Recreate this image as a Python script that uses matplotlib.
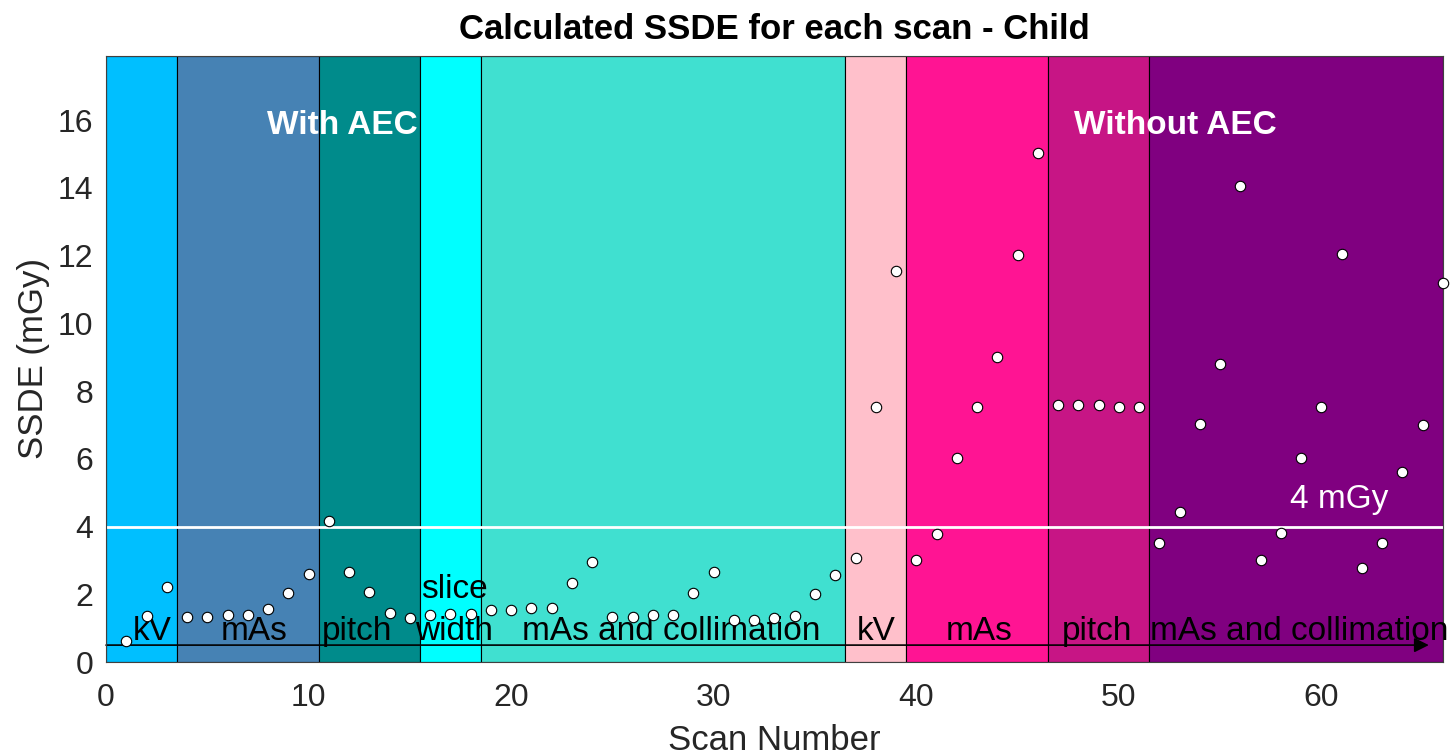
import numpy as np
import matplotlib
matplotlib.use("Agg")
import matplotlib.pyplot as plt

plt.rcParams['font.family'] = ['Liberation Sans', 'DejaVu Sans']

# SSDE per scan (mGy), scans 1..66
scan = np.arange(1, 67)
ssde = [0.62, 1.37, 2.22, 1.32, 1.32, 1.38, 1.38, 1.57, 2.03, 2.59,
        4.17, 2.66, 2.06, 1.44, 1.30, 1.38, 1.43, 1.43, 1.55, 1.55,
        1.61, 1.61, 2.32, 2.96, 1.33, 1.33, 1.38, 1.38, 2.04, 2.66,
        1.25, 1.23, 1.30, 1.35, 2.01, 2.58, 3.08, 7.52, 11.55, 3.01,
        3.79, 6.02, 7.52, 9.02, 12.03, 15.04, 7.58, 7.58, 7.58, 7.52,
        7.52, 3.52, 4.43, 7.03, 8.79, 14.07, 3.01, 3.80, 6.02, 7.52,
        12.04, 2.79, 3.52, 5.60, 6.99, 11.18]

# parameter groups (scan ranges) and their labels
group_edges = [0, 3.5, 10.5, 15.5, 18.5, 36.5, 39.5, 46.5, 51.5, 66]
group_colors = ['deepskyblue', 'steelblue', 'darkcyan', 'cyan', 'turquoise',
                'pink', 'deeppink', 'mediumvioletred', 'purple']
group_labels = ['kV', 'mAs', 'pitch', 'slice\nwidth', 'mAs and collimation',
                'kV', 'mAs', 'pitch', 'mAs and collimation']
label_x = [2.3, 7.3, 12.4, 17.2, 27.9, 38.0, 43.1, 48.9, 58.9]

limit = 4  # mGy reference

fig = plt.figure(figsize=(14.52, 7.56), dpi=100)
ax = fig.add_axes([0.073, 0.1243, 0.9208, 0.8017])

for i in range(len(group_colors)):
    ax.axvspan(group_edges[i], group_edges[i + 1], color=group_colors[i],
               ec='black', lw=0.8, zorder=0)

for lab, lx in zip(group_labels, label_x):
    if '\n' in lab:
        top, bot = lab.split('\n')
        ax.text(lx, 1.9, top, ha='center', va='baseline', fontsize=24, zorder=3)
        ax.text(lx, 0.65, bot, ha='center', va='baseline', fontsize=24, zorder=3)
    else:
        ax.text(lx, 0.65, lab, ha='center', va='baseline', fontsize=24, zorder=3)

ax.annotate('', xy=(65.3, 0.5), xytext=(0, 0.5),
            arrowprops=dict(arrowstyle='-|>', color='black', lw=1.2,
                            mutation_scale=22, shrinkA=0, shrinkB=0),
            zorder=2)

ax.axhline(limit, color='white', lw=2, zorder=2)
ax.text(60.9, 4.8, '4 mGy', color='white', fontsize=24, ha='center',
        va='center', zorder=3)

ax.text(11.65, 15.85, 'With AEC', color='white', fontsize=24,
        fontweight='bold', ha='center', va='center', zorder=3)
ax.text(52.8, 15.85, 'Without AEC', color='white', fontsize=24,
        fontweight='bold', ha='center', va='center', zorder=3)

ax.plot(scan, ssde, 'o', mfc='white', mec='black', mew=0.8, ms=7.5,
        zorder=4, clip_on=False)

ax.set_xlim(0, 66)
ax.set_ylim(0, 17.9)
ax.set_xticks(range(0, 61, 10))
ax.set_yticks(range(0, 17, 2))
ax.tick_params(labelsize=23, colors='#262626', direction='in', length=0)
ax.tick_params(axis='x', pad=15)
ax.tick_params(axis='y', pad=9)
for sp in ax.spines.values():
    sp.set_color('#404040')
    sp.set_linewidth(0.8)

ax.set_xlabel('Scan Number', fontsize=25, color='#262626', labelpad=8)
ax.set_ylabel('SSDE (mGy)', fontsize=25, color='#262626', labelpad=6)
ax.set_title('Calculated SSDE for each scan - Child', fontsize=25,
             fontweight='bold', pad=12)

fig.savefig('out.png', dpi=100)
